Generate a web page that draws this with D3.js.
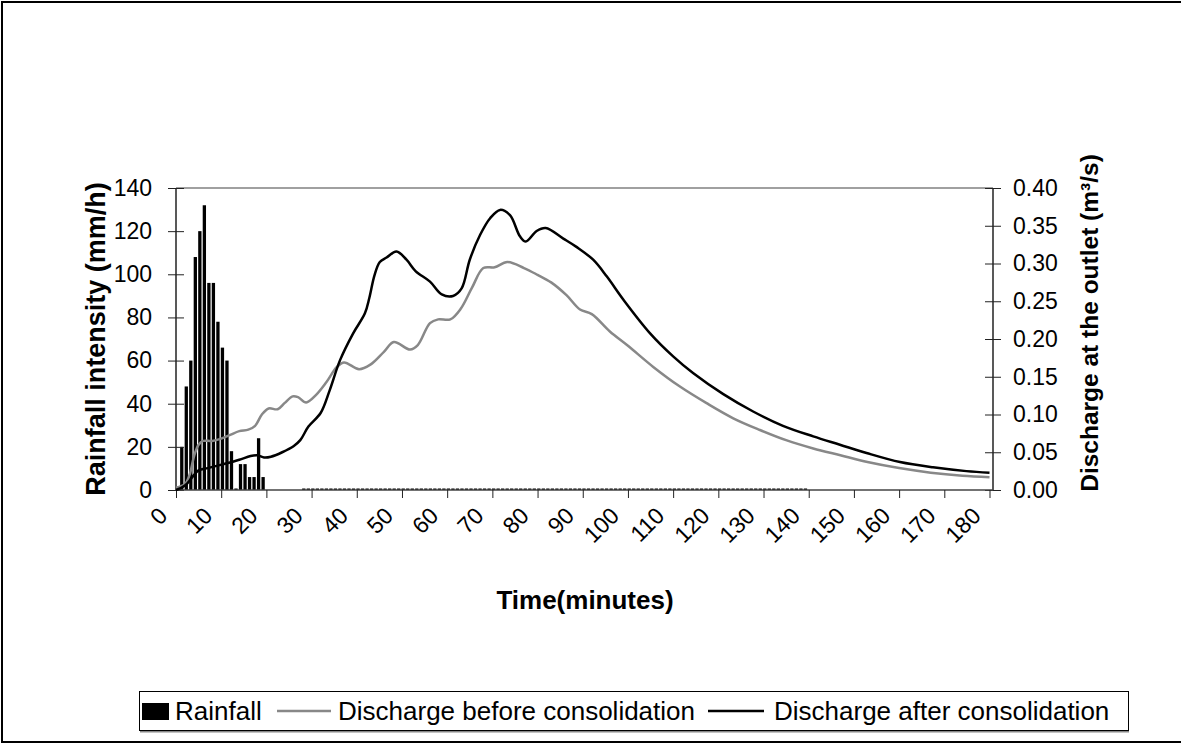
<!DOCTYPE html>
<html>
<head>
<meta charset="utf-8">
<script src="https://cdn.jsdelivr.net/npm/d3@7"></script>
<style>
  body { margin: 0; background: #fff; }
  text { font-family: Arial, "Liberation Sans", sans-serif; fill: #000; }
  .tick text { font-size: 23px; }
  .axis-label { font-size: 26px; font-weight: bold; }
  .legend text { font-size: 26px; }
</style>
</head>
<body>
<svg width="1181" height="746"></svg>
<script>
// rainfall intensity (mm/h) per minute, minutes 1..139 (null = no record)
const rainTime = [
  1, 2, 3, 4, 5, 6, 7, 8, 9, 10, 11, 12, 13, 14, 15, 16, 17, 18, 19, 20,
  21, 22, 23, 24, 25, 26, 27, 28, 29, 30, 31, 32, 33, 34, 35, 36, 37, 38, 39, 40,
  41, 42, 43, 44, 45, 46, 47, 48, 49, 50, 51, 52, 53, 54, 55, 56, 57, 58, 59, 60,
  61, 62, 63, 64, 65, 66, 67, 68, 69, 70, 71, 72, 73, 74, 75, 76, 77, 78, 79, 80,
  81, 82, 83, 84, 85, 86, 87, 88, 89, 90, 91, 92, 93, 94, 95, 96, 97, 98, 99, 100,
  101, 102, 103, 104, 105, 106, 107, 108, 109, 110, 111, 112, 113, 114, 115, 116, 117, 118, 119, 120,
  121, 122, 123, 124, 125, 126, 127, 128, 129, 130, 131, 132, 133, 134, 135, 136, 137, 138, 139
];
const rainValue = [
  20, 48, 60, 108, 120, 132, 96, 96, 78, 66, 60, 18, 0, 12, 12, 6, 6, 24, 6, null,
  null, null, null, null, null, null, null, 0, 0, 0, 0, 0, 0, 0, 0, 0, 0, 0, 0, 0,
  0, 0, 0, 0, 0, 0, 0, 0, 0, 0, 0, 0, 0, 0, 0, 0, 0, 0, 0, 0,
  0, 0, 0, 0, 0, 0, 0, 0, 0, 0, 0, 0, 0, 0, 0, 0, 0, 0, 0, 0,
  0, 0, 0, 0, 0, 0, 0, 0, 0, 0, 0, 0, 0, 0, 0, 0, 0, 0, 0, 0,
  0, 0, 0, 0, 0, 0, 0, 0, 0, 0, 0, 0, 0, 0, 0, 0, 0, 0, 0, 0,
  0, 0, 0, 0, 0, 0, 0, 0, 0, 0, 0, 0, 0, 0, 0, 0, 0, 0, 0
];

// discharge before consolidation (m3/s)
const beforeTime = [0, 2, 3, 4, 5, 6, 8, 10, 12, 14, 16, 17.5, 19, 20.5, 22.5, 24, 25.8, 27, 28.8, 31,
  33.3, 35.6, 37.2, 40.5, 43, 46, 48.2, 51.8, 53.5, 56.2, 58, 60.7, 63, 65.5, 68, 70.5, 73.3, 77, 80, 83,
  86.4, 89.4, 92, 96, 100, 105.6, 111.5, 117.4, 123.3, 129.2, 135, 141, 147, 153, 160, 167, 174, 180];
const beforeQ = [0.003, 0.008, 0.02, 0.045, 0.06, 0.065, 0.065, 0.068, 0.073, 0.078, 0.080, 0.085, 0.100, 0.108, 0.107, 0.115, 0.124, 0.123, 0.116, 0.126,
  0.143, 0.163, 0.169, 0.160, 0.166, 0.183, 0.196, 0.186, 0.192, 0.221, 0.226, 0.226, 0.240, 0.268, 0.294, 0.295, 0.302, 0.294, 0.285, 0.275,
  0.258, 0.239, 0.233, 0.210, 0.191, 0.163, 0.137, 0.115, 0.095, 0.0795, 0.066, 0.055, 0.046, 0.037, 0.029, 0.023, 0.019, 0.017];

// discharge after consolidation (m3/s)
const afterTime = [0, 2, 4, 5, 7, 9, 11, 14, 16.5, 18, 19.5, 21, 23.5, 26, 27.5, 29.3, 32, 34, 36.3, 39.2,
  41.8, 42.8, 43.9, 45.1, 46.6, 48.8, 51, 53, 56.2, 58.8, 61.3, 63.2, 65, 67.3, 69.5, 71.7, 73.9, 76.1, 77.4, 79.8, 81.8,
  85.7, 88.6, 92.3, 95.3, 99, 104.9, 110, 114.4, 121.1, 127.7, 134.3, 141, 146.9, 152.8, 160.2, 167.5, 174.9, 180];
const afterQ = [0, 0.006, 0.02, 0.026, 0.029, 0.032, 0.035, 0.040, 0.045, 0.046, 0.043, 0.044, 0.050, 0.058, 0.066, 0.084, 0.102, 0.132, 0.172, 0.2075,
  0.234, 0.255, 0.284, 0.302, 0.308, 0.316, 0.305, 0.290, 0.276, 0.259, 0.257, 0.267, 0.305, 0.338, 0.360, 0.371, 0.364, 0.336, 0.329, 0.343, 0.347,
  0.333, 0.322, 0.305, 0.283, 0.252, 0.2075, 0.177, 0.155, 0.127, 0.104, 0.085, 0.071, 0.060, 0.049, 0.037, 0.030, 0.025, 0.023];

const timeTicks = [0, 10, 20, 30, 40, 50, 60, 70, 80, 90, 100, 110, 120, 130, 140, 150, 160, 170, 180];
const rainTicks = [0, 20, 40, 60, 80, 100, 120, 140];
const flowTicks = [0, 0.05, 0.10, 0.15, 0.20, 0.25, 0.30, 0.35, 0.40];

(function (d3) {
  'use strict';

  const svg = d3.select('svg');
  const width = +svg.attr('width');
  const height = +svg.attr('height');

  // outer chart frame
  svg.append('rect')
    .attr('x', 2).attr('y', 2)
    .attr('width', width + 10).attr('height', 740)
    .attr('fill', 'none').attr('stroke', '#000').attr('stroke-width', 2);

  const margin = { top: 188, right: 188, bottom: 256, left: 176 };
  const innerWidth = width - margin.left - margin.right;
  const innerHeight = height - margin.top - margin.bottom;

  const xScale = d3.scaleLinear().domain([0, 180]).range([0, innerWidth - 3.5]);
  const yRain = d3.scaleLinear().domain([0, 140]).range([innerHeight, 0]);
  const yFlow = d3.scaleLinear().domain([0, 0.4]).range([innerHeight, 0]);

  const g = svg.append('g')
    .attr('transform', `translate(${margin.left},${margin.top})`);

  // top border of plot area
  g.append('line')
    .attr('x1', 0).attr('x2', innerWidth)
    .attr('y1', 0).attr('y2', 0)
    .attr('stroke', '#a0a0a0').attr('stroke-width', 2);

  // rainfall bars
  const rain = rainTime.map((t, i) => ({ t, v: rainValue[i] })).filter(d => d.v !== null);
  g.selectAll('rect.bar').data(rain)
    .enter().append('rect')
      .attr('class', 'bar')
      .attr('x', d => xScale(d.t) - 0.4)
      .attr('width', 3.3)
      .attr('y', d => Math.min(yRain(d.v), innerHeight - 1.5))
      .attr('height', d => Math.max(innerHeight - yRain(d.v), 1.5))
      .attr('fill', '#000');

  // axes
  const yAxisG = g.append('g').call(d3.axisLeft(yRain).tickValues(rainTicks).tickSize(8));
  yAxisG.selectAll('.tick line').attr('x1', -8).attr('x2', 8).attr('stroke', '#222');
  yAxisG.selectAll('.tick text').attr('x', -24);
  yAxisG.select('.domain').attr('d', `M0,0V${innerHeight}`).attr('stroke', '#222').attr('stroke-width', 1.5);

  const y2AxisG = g.append('g')
    .attr('transform', `translate(${innerWidth},0)`)
    .call(d3.axisRight(yFlow).tickValues(flowTicks).tickSize(8).tickFormat(d3.format('.2f')));
  y2AxisG.selectAll('.tick line').attr('x1', -8).attr('x2', 8).attr('stroke', '#222');
  y2AxisG.selectAll('.tick text').attr('x', 20);
  y2AxisG.select('.domain').attr('d', `M0,0V${innerHeight}`).attr('stroke', '#222').attr('stroke-width', 1.5);

  const xAxisG = g.append('g')
    .attr('transform', `translate(0,${innerHeight})`)
    .call(d3.axisBottom(xScale).tickValues(timeTicks).tickSize(8));
  xAxisG.select('.domain').attr('d', `M0,0H${innerWidth}`).attr('stroke', '#444').attr('stroke-width', 1.5);
  xAxisG.selectAll('.tick line').attr('stroke', '#222');
  xAxisG.selectAll('.tick text')
    .attr('x', 0).attr('y', 0).attr('dy', '0.35em')
    .attr('text-anchor', 'end')
    .attr('transform', 'translate(-13.5,21.5) rotate(-45)');
  svg.selectAll('.tick text').attr('fill', '#000');

  // discharge lines
  const line = d3.line()
    .x(d => xScale(d.t))
    .y(d => yFlow(d.v))
    .curve(d3.curveCatmullRom.alpha(0.5));

  const before = beforeTime.map((t, i) => ({ t, v: beforeQ[i] }));
  const after = afterTime.map((t, i) => ({ t, v: afterQ[i] }));

  g.append('path').datum(before)
    .attr('d', line)
    .attr('fill', 'none').attr('stroke', '#888').attr('stroke-width', 2.5);
  g.append('path').datum(after)
    .attr('d', line)
    .attr('fill', 'none').attr('stroke', '#000').attr('stroke-width', 2.5);

  // axis titles
  svg.append('text')
    .attr('class', 'axis-label')
    .style('font-size', '27px')
    .attr('transform', `translate(105,${margin.top + innerHeight / 2}) rotate(-90)`)
    .attr('text-anchor', 'middle')
    .text('Rainfall intensity (mm/h)');

  svg.append('text')
    .attr('class', 'axis-label')
    .style('font-size', '24.5px')
    .attr('transform', `translate(1098,323) rotate(-90)`)
    .attr('text-anchor', 'middle')
    .text('Discharge at the outlet (m³/s)');

  svg.append('text')
    .attr('class', 'axis-label')
    .attr('x', 585).attr('y', 609)
    .attr('text-anchor', 'middle')
    .text('Time(minutes)');

  // legend
  const legend = svg.append('g').attr('class', 'legend');
  legend.append('line')
    .attr('x1', 140).attr('x2', 1129).attr('y1', 731.5).attr('y2', 731.5)
    .attr('stroke', '#888').attr('stroke-width', 2);
  legend.append('rect')
    .attr('x', 139.5).attr('y', 691.5).attr('width', 989).attr('height', 39)
    .attr('fill', '#fff').attr('stroke', '#000').attr('stroke-width', 1);
  legend.append('rect')
    .attr('x', 142).attr('y', 703).attr('width', 27).attr('height', 17).attr('fill', '#000');
  legend.append('text').attr('x', 175).attr('y', 720).text('Rainfall');
  legend.append('line')
    .attr('x1', 277).attr('x2', 331).attr('y1', 711).attr('y2', 711)
    .attr('stroke', '#888').attr('stroke-width', 2.5);
  legend.append('text').attr('x', 338).attr('y', 720).text('Discharge before consolidation');
  legend.append('line')
    .attr('x1', 708).attr('x2', 764).attr('y1', 711).attr('y2', 711)
    .attr('stroke', '#000').attr('stroke-width', 2.5);
  legend.append('text').attr('x', 774).attr('y', 720).text('Discharge after consolidation');

}(d3));
</script>
</body>
</html>
